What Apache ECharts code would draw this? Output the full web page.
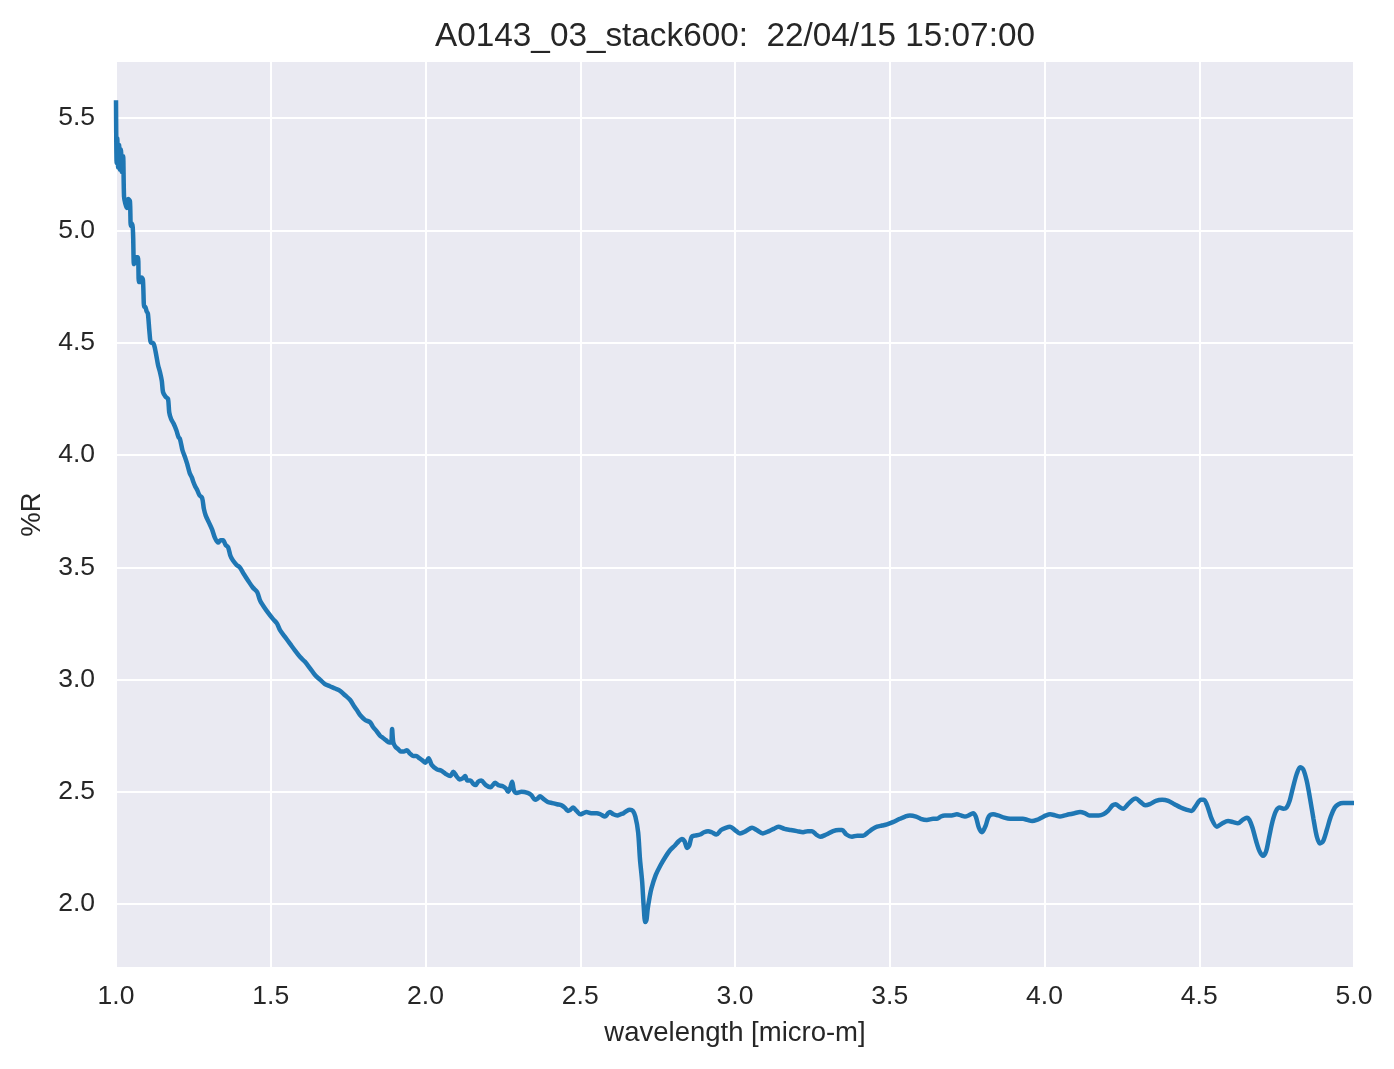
<!DOCTYPE html>
<html>
<head>
<meta charset="utf-8">
<script src="https://cdn.jsdelivr.net/npm/echarts@6/dist/echarts.min.js"></script>
<style>
html,body{margin:0;padding:0;background:#fff;}
#chart{width:1394px;height:1069px;}
</style>
</head>
<body>
<div id="chart"></div>
<script>
const chartTitle = 'A0143_03_stack600:  22/04/15 15:07:00';
const xLabel = 'wavelength [micro-m]';
const yLabel = '%R';
const yTicks = [2.0, 2.5, 3.0, 3.5, 4.0, 4.5, 5.0, 5.5];

const wavelength = [
1.000,1.002,1.004,1.007,1.010,1.013,1.016,1.019,1.023,1.026,
1.030,1.035,1.040,1.045,1.048,1.052,1.055,1.058,1.061,1.066,
1.071,1.074,1.078,1.083,1.087,1.091,1.094,1.099,1.103,1.108,
1.113,1.118,1.123,1.128,1.136,1.142,1.148,1.152,1.160,1.168,
1.172,1.178,1.186,1.195,1.202,1.207,1.215,1.223,1.230,1.238,
1.245,1.250,1.256,1.262,1.270,1.278,1.284,1.290,1.300,1.310,
1.320,1.330,1.338,1.346,1.354,1.362,1.370,1.378,1.390,1.400,
1.413,1.427,1.442,1.456,1.466,1.475,1.490,1.507,1.520,1.530,
1.546,1.562,1.578,1.595,1.610,1.627,1.643,1.659,1.675,1.691,
1.708,1.724,1.740,1.756,1.770,1.780,1.790,1.805,1.821,1.830,
1.842,1.853,1.863,1.872,1.883,1.889,1.892,1.896,1.903,1.912,
1.920,1.930,1.940,1.950,1.960,1.970,1.980,1.990,2.000,2.010,
2.020,2.037,2.050,2.065,2.080,2.090,2.100,2.110,2.120,2.128,
2.135,2.145,2.155,2.162,2.170,2.180,2.195,2.210,2.225,2.235,
2.250,2.260,2.267,2.273,2.280,2.286,2.295,2.310,2.330,2.342,
2.354,2.362,2.370,2.380,2.395,2.410,2.425,2.440,2.450,2.460,
2.468,2.477,2.488,2.500,2.510,2.520,2.535,2.554,2.565,2.580,
2.590,2.596,2.607,2.620,2.630,2.640,2.650,2.660,2.670,2.678,
2.687,2.693,2.700,2.705,2.710,2.714,2.718,2.724,2.730,2.744,
2.758,2.775,2.790,2.805,2.818,2.828,2.837,2.845,2.852,2.860,
2.870,2.887,2.900,2.913,2.925,2.940,2.955,2.970,2.984,3.000,
3.016,3.035,3.055,3.070,3.090,3.110,3.125,3.140,3.160,3.180,
3.200,3.220,3.235,3.249,3.262,3.275,3.295,3.317,3.335,3.346,
3.360,3.378,3.395,3.414,3.430,3.445,3.459,3.475,3.491,3.510,
3.533,3.550,3.565,3.585,3.600,3.620,3.640,3.653,3.665,3.678,
3.700,3.717,3.730,3.743,3.755,3.769,3.778,3.788,3.798,3.810,
3.820,3.834,3.850,3.870,3.889,3.910,3.930,3.945,3.960,3.975,
3.990,4.005,4.018,4.035,4.050,4.065,4.080,4.097,4.115,4.130,
4.145,4.160,4.175,4.190,4.205,4.220,4.230,4.240,4.254,4.270,
4.285,4.295,4.310,4.325,4.340,4.360,4.380,4.400,4.420,4.440,
4.460,4.475,4.490,4.505,4.515,4.528,4.540,4.557,4.575,4.593,
4.610,4.625,4.640,4.654,4.662,4.672,4.684,4.695,4.706,4.716,
4.726,4.737,4.748,4.760,4.772,4.782,4.792,4.803,4.815,4.826,
4.836,4.847,4.858,4.869,4.880,4.890,4.900,4.912,4.925,4.938,
4.950,4.965,4.985,5.000
];

const reflectance = [
5.58,5.30,5.41,5.28,5.38,5.27,5.36,5.26,5.33,5.15,
5.12,5.10,5.14,5.13,5.02,5.03,4.99,4.85,4.86,4.88,
4.88,4.77,4.77,4.79,4.78,4.66,4.66,4.64,4.63,4.55,
4.50,4.50,4.49,4.46,4.40,4.37,4.33,4.28,4.26,4.25,
4.19,4.16,4.14,4.11,4.08,4.07,4.02,3.99,3.96,3.92,
3.90,3.88,3.86,3.845,3.82,3.81,3.76,3.73,3.70,3.67,
3.63,3.61,3.62,3.62,3.60,3.59,3.55,3.53,3.51,3.50,
3.47,3.44,3.41,3.39,3.35,3.33,3.30,3.27,3.25,3.22,
3.19,3.16,3.13,3.10,3.08,3.05,3.02,3.00,2.98,2.97,
2.96,2.95,2.93,2.91,2.88,2.86,2.84,2.82,2.81,2.79,
2.77,2.75,2.74,2.73,2.72,2.72,2.78,2.72,2.70,2.69,
2.68,2.68,2.685,2.67,2.66,2.66,2.65,2.64,2.63,2.65,
2.62,2.60,2.595,2.58,2.57,2.59,2.57,2.555,2.56,2.57,
2.55,2.55,2.535,2.53,2.545,2.55,2.53,2.52,2.54,2.53,
2.525,2.515,2.50,2.515,2.545,2.505,2.495,2.50,2.495,2.485,
2.465,2.47,2.48,2.47,2.455,2.45,2.445,2.44,2.43,2.415,
2.42,2.43,2.415,2.40,2.405,2.41,2.405,2.405,2.40,2.39,
2.405,2.41,2.40,2.395,2.40,2.405,2.415,2.42,2.415,2.39,
2.32,2.20,2.10,1.99,1.92,1.93,1.98,2.03,2.07,2.13,
2.17,2.21,2.24,2.26,2.28,2.29,2.28,2.25,2.26,2.30,
2.305,2.31,2.32,2.325,2.32,2.31,2.33,2.34,2.345,2.33,
2.315,2.325,2.34,2.33,2.315,2.325,2.335,2.345,2.335,2.33,
2.325,2.32,2.325,2.325,2.31,2.30,2.31,2.325,2.33,2.33,
2.31,2.30,2.305,2.305,2.32,2.335,2.345,2.35,2.355,2.365,
2.38,2.39,2.395,2.39,2.38,2.375,2.38,2.38,2.39,2.395,
2.395,2.40,2.395,2.39,2.395,2.405,2.39,2.34,2.32,2.35,
2.39,2.40,2.395,2.385,2.38,2.38,2.38,2.375,2.37,2.375,
2.385,2.395,2.40,2.395,2.39,2.395,2.40,2.405,2.41,2.405,
2.395,2.395,2.395,2.40,2.415,2.44,2.445,2.435,2.425,2.445,
2.465,2.47,2.455,2.44,2.445,2.46,2.465,2.46,2.445,2.43,
2.42,2.415,2.44,2.465,2.465,2.43,2.38,2.345,2.36,2.37,
2.365,2.36,2.375,2.385,2.375,2.34,2.28,2.235,2.215,2.235,
2.30,2.37,2.415,2.43,2.425,2.43,2.46,2.52,2.58,2.61,
2.60,2.55,2.47,2.38,2.30,2.27,2.28,2.33,2.39,2.43,
2.445,2.45,2.45,2.45
];

const seriesData = wavelength.map((w, i) => [w, reflectance[i]]);
const textColor = '#262626';
const fontFamily = '"Liberation Sans", Arial, sans-serif';

const chart = echarts.init(document.getElementById('chart'), null, {renderer: 'canvas'});
chart.setOption({
  animation: false,
  backgroundColor: '#ffffff',
  title: {
    text: chartTitle,
    left: 730,
    textAlign: 'center',
    top: 15,
    textStyle: {color: textColor, fontSize: 33.3, fontWeight: 'normal', fontFamily: fontFamily}
  },
  grid: {left: 116, right: 40, top: 62, bottom: 102, show: true, backgroundColor: '#eaeaf2', borderWidth: 0},
  xAxis: {
    type: 'value', min: 1, max: 5, interval: 0.5,
    name: xLabel, nameLocation: 'middle', nameGap: 52,
    nameTextStyle: {color: textColor, fontSize: 27.5, fontFamily: fontFamily},
    axisLine: {show: false}, axisTick: {show: false},
    axisLabel: {color: textColor, fontSize: 26.5, fontFamily: fontFamily, margin: 16,
      formatter: v => v.toFixed(1)},
    splitLine: {show: true, lineStyle: {color: '#ffffff', width: 2}}
  },
  yAxis: {
    type: 'value', min: 1.72, max: 5.75,
    name: yLabel, nameLocation: 'middle', nameGap: 70, nameRotate: 90,
    nameTextStyle: {color: textColor, fontSize: 27.5, fontFamily: fontFamily},
    axisLine: {show: false},
    axisTick: {show: false, customValues: yTicks},
    axisLabel: {color: textColor, fontSize: 26.5, fontFamily: fontFamily, margin: 21,
      customValues: yTicks, formatter: v => v.toFixed(1)},
    splitLine: {show: true, lineStyle: {color: '#ffffff', width: 2}}
  },
  series: [{
    type: 'line',
    data: seriesData,
    showSymbol: false,
    smooth: 0.3,
    lineStyle: {color: '#1f77b4', width: 4.5},
    clip: true
  }]
});
</script>
</body>
</html>
